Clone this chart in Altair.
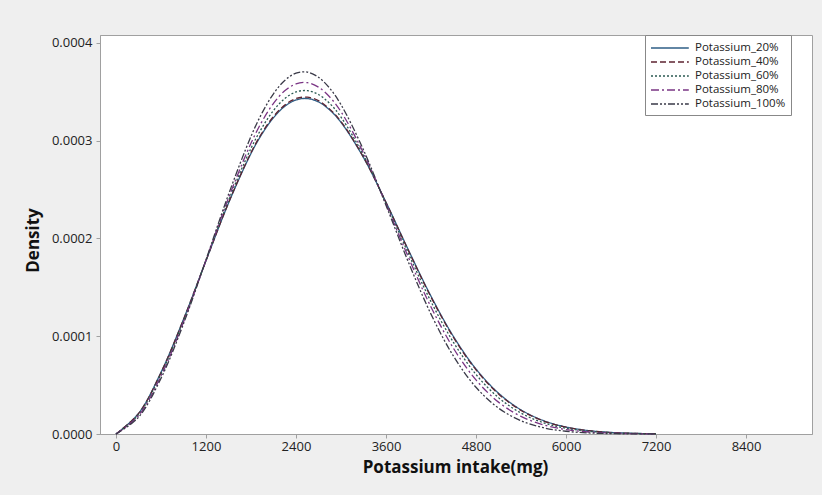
import altair as alt
import pandas as pd

# x grid (mg)
intake = [0, 300, 600, 900, 1200, 1500, 1800, 1950, 2100, 2250, 2400, 2550, 2700, 2850,
          3000, 3300, 3600, 3900, 4200, 4500, 4800, 5100, 5400, 5700, 6000, 6300, 6600,
          6900, 7200]

# densities, in units of 1e-6
k20 = [0, 21.0, 63.0, 117.2, 177.2, 236.0, 286.8, 307.2, 323.4, 335.0, 341.6, 343.0, 339.6,
       331.3, 318.7, 282.7, 237.0, 188.0, 140.9, 99.7, 66.5, 41.8, 24.7, 13.7, 7.17, 3.5,
       1.6, 0.68, 0.27]
k40 = [0, 20.8, 62.7, 117.0, 177.2, 236.4, 287.7, 308.3, 324.6, 336.3, 343.0, 344.4, 340.9,
       332.2, 319.6, 283.1, 236.8, 187.4, 140.0, 98.7, 65.6, 41.0, 24.1, 13.3, 6.95, 3.4,
       1.5, 0.65, 0.26]
k60 = [0, 19.9, 61.1, 115.9, 177.5, 238.7, 292.1, 313.6, 330.8, 343.0, 349.8, 351.1, 347.2,
       338.0, 324.1, 285.0, 236.1, 184.3, 135.4, 93.7, 60.9, 37.2, 21.4, 11.5, 5.86, 2.8,
       1.24, 0.52, 0.2]
k80 = [0, 18.7, 59.3, 114.5, 177.7, 241.3, 297.3, 320.0, 338.1, 350.9, 358.0, 359.3, 354.7,
       344.6, 329.6, 287.4, 235.1, 180.5, 129.9, 87.6, 55.3, 32.6, 18.0, 9.3, 4.55, 2.06,
       0.88, 0.36, 0.13]
k100 = [0, 17.1, 56.9, 112.7, 178.1, 244.9, 304.3, 328.6, 347.9, 361.5, 369.0, 370.1, 364.8,
        353.5, 336.8, 290.5, 233.9, 175.5, 122.6, 79.6, 47.8, 26.5, 13.6, 6.4, 2.8, 1.1,
        0.4, 0.14, 0.04]

series_names = ["Potassium_20%", "Potassium_40%", "Potassium_60%", "Potassium_80%", "Potassium_100%"]
series_values = [k20, k40, k60, k80, k100]
series_colors = ["#2f5f86", "#5e2330", "#2a5a52", "#7a3484", "#3a3a48"]
series_dashes = [[1, 0], [6, 3], [2, 2], [8, 3, 2, 3], [7, 2, 2, 2, 2, 2]]

x_ticks = [0, 1200, 2400, 3600, 4800, 6000, 7200, 8400]
y_ticks = [0, 0.0001, 0.0002, 0.0003, 0.0004]

rows = []
for name, vals in zip(series_names, series_values):
    for x, v in zip(intake, vals):
        rows.append({"intake": x, "density": v * 1e-6, "series": name})
df = pd.DataFrame(rows)

FONT = "Open Sans"

chart = alt.Chart(df).mark_line(strokeWidth=1.3, interpolate="catmull-rom").encode(
    x=alt.X("intake:Q",
            scale=alt.Scale(domain=[-213, 9280], nice=False, zero=False),
            axis=alt.Axis(title="Potassium intake(mg)", values=x_ticks, format="d",
                          grid=False, tickSize=4, labelPadding=2,
                          titleX=355, titleY=33, titleBaseline="middle", titleAlign="center")),
    y=alt.Y("density:Q",
            scale=alt.Scale(domain=[0, 0.000408], nice=False),
            axis=alt.Axis(title="Density", values=y_ticks, format=".4f",
                          grid=False, tickSize=4, labelPadding=4,
                          titleX=-67, titleY=205, titleAngle=-90,
                          titleBaseline="middle", titleAlign="center")),
    color=alt.Color("series:N", sort=series_names,
                    scale=alt.Scale(domain=series_names, range=series_colors),
                    legend=alt.Legend(title=None, orient="none", legendX=545, legendY=0,
                                      symbolType="M-1,0H4.4", symbolSize=196,
                                      symbolStrokeWidth=1.3, symbolFillColor="transparent",
                                      labelFont=FONT, labelFontSize=11.5, labelColor="#222",
                                      fillColor="white", strokeColor="#888",
                                      padding=5, rowPadding=-1, labelOffset=29)),
    strokeDash=alt.StrokeDash("series:N", sort=series_names,
                              scale=alt.Scale(domain=series_names, range=series_dashes),
                              legend=None),
).properties(
    width=712, height=399,
    background="#efefef",
    padding={"left": 100, "top": 35, "right": 10, "bottom": 61},
    autosize=alt.AutoSizeParams(type="none"),
).configure_view(
    fill="white", stroke="#a0a0a0", strokeWidth=1
).configure_axis(
    labelFont=FONT, labelFontSize=13, labelColor="#222",
    titleFont=FONT, titleFontSize=17, titleFontWeight="bold", titleColor="#111",
    domainColor="#a0a0a0", tickColor="#a0a0a0",
)

chart.save("out.html", embed_options={"renderer": "svg", "actions": False})
